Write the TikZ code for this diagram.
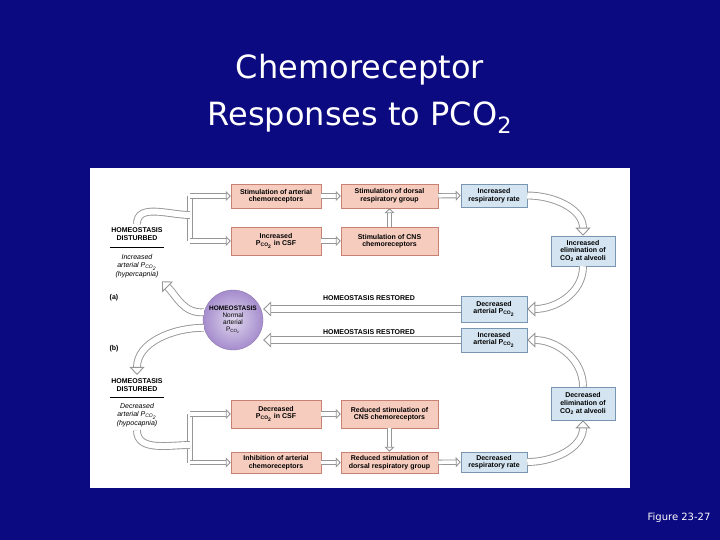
\documentclass[tikz,border=0pt]{standalone}
\usepackage{fontspec}
\setmainfont{Liberation Sans}
\newfontfamily\titlefont{DejaVu Sans}
\usetikzlibrary{arrows.meta,shapes.geometric}
\definecolor{navy}{RGB}{12,10,128}
\definecolor{pinkfill}{RGB}{246,204,190}
\definecolor{pinkline}{RGB}{200,130,115}
\definecolor{bluefill}{RGB}{212,229,241}
\definecolor{blueline}{RGB}{120,150,175}
\definecolor{ballcol}{RGB}{165,140,205}
\definecolor{arrline}{RGB}{150,150,150}
\newcommand{\pco}{P\textsubscript{CO\textsubscript{2}}}
\tikzset{
  box/.style={draw, line width=0.5pt, align=center, inner sep=1pt,
    font=\fontsize{7}{7.6}\selectfont\bfseries},
  pbox/.style={box, fill=pinkfill, draw=pinkline},
  bbox/.style={box, fill=bluefill, draw=blueline},
  lbl/.style={align=center, font=\fontsize{7}{8}\selectfont},
  fat/.style={draw=arrline, double=white, double distance=3.5pt, line width=0.9pt,
    -{Triangle[open,length=5pt,width=10pt,fill=white]}},
  trunk/.style={draw=arrline, double=white, double distance=3.5pt, line width=0.9pt},
  fatl/.style={draw=arrline, double=white, double distance=6pt, line width=0.9pt},
  big/.style={draw=arrline, double=white, double distance=6pt, line width=0.9pt,
    -{Triangle[open,length=8pt,width=15pt,fill=white]}}
}
\begin{document}
\begin{tikzpicture}[x=1pt,y=-1pt]
\fill[navy] (0,0) rectangle (720,540);
\useasboundingbox (0,0) rectangle (720,540);
\fill[white] (90,168) rectangle (630,488);
% title
\node[white, font=\titlefont\fontsize{32}{40}\selectfont] (t1) at (360,70) {Chemoreceptor};
\node[white, font=\titlefont\fontsize{32}{40}\selectfont] (t2) at (360,118) {Responses to PCO\textsubscript{2}};
\node[white, font=\titlefont\fontsize{10}{12}\selectfont] (fig) at (679,518) {Figure 23-27};
% (a) boxes
\node[pbox, minimum width=90, minimum height=24] (A1) at (276,196) {Stimulation of arterial\\chemoreceptors};
\node[pbox, minimum width=97, minimum height=24] (A2) at (389.5,196) {Stimulation of dorsal\\respiratory group};
\node[bbox, minimum width=66, minimum height=23] (A3) at (494,195.5) {Increased\\respiratory rate};
\node[pbox, minimum width=90, minimum height=28] (A4) at (276,241) {Increased\\\pco{} in CSF};
\node[pbox, minimum width=97, minimum height=28] (A5) at (389.5,241) {Stimulation of CNS\\chemoreceptors};
\node[bbox, minimum width=64, minimum height=30] (A6) at (583,251) {Increased\\elimination of\\CO\textsubscript{2} at alveoli};
\node[bbox, minimum width=66, minimum height=26] (A7) at (494,309) {Decreased\\arterial \pco};
% (b) boxes
\node[bbox, minimum width=66, minimum height=24] (B7) at (494,340) {Increased\\arterial \pco};
\node[pbox, minimum width=90, minimum height=28] (B1) at (276,414) {Decreased\\\pco{} in CSF};
\node[pbox, minimum width=97, minimum height=28] (B2) at (389.5,414) {Reduced stimulation of\\CNS chemoreceptors};
\node[pbox, minimum width=90, minimum height=21] (B4) at (276,462.5) {Inhibition of arterial\\chemoreceptors};
\node[pbox, minimum width=97, minimum height=21] (B5) at (389.5,462.5) {Reduced stimulation of\\dorsal respiratory group};
\node[bbox, minimum width=66, minimum height=20] (B6) at (494,462) {Decreased\\respiratory rate};
\node[bbox, minimum width=64, minimum height=33] (B8) at (583,403.5) {Decreased\\elimination of\\CO\textsubscript{2} at alveoli};
% homeostasis ball
\node[circle, minimum size=60, inner sep=0pt, inner color=ballcol!35!white, outer color=ballcol,
  draw=ballcol!80!black, line width=0.3pt, align=center,
  font=\fontsize{6.5}{7}\selectfont] (circ) at (233,320)
  {\textbf{HOMEOSTASIS}\\Normal\\arterial\\\pco};
% left texts
\node[lbl, font=\fontsize{7}{8}\selectfont\bfseries] (da1) at (137,234) {HOMEOSTASIS\\DISTURBED};
\node[lbl, font=\fontsize{7}{8.5}\selectfont\itshape] (da2) at (137,266) {Increased\\arterial \pco\\(hypercapnia)};
\draw[black, line width=0.5pt] (110,247) -- (164,247);
\node[lbl, font=\fontsize{7}{8}\selectfont\bfseries] (pa) at (114,298) {(a)};
\node[lbl, font=\fontsize{7}{8}\selectfont\bfseries] (pb) at (114,349) {(b)};
\node[lbl, font=\fontsize{7}{8}\selectfont\bfseries] (db1) at (137,385) {HOMEOSTASIS\\DISTURBED};
\node[lbl, font=\fontsize{7}{8.5}\selectfont\itshape] (db2) at (137,415) {Decreased\\arterial \pco\\(hypocapnia)};
\draw[black, line width=0.5pt] (110,397) -- (164,397);
\node[lbl, font=\fontsize{7}{8}\selectfont\bfseries] (ra) at (369,298) {HOMEOSTASIS RESTORED};
\node[lbl, font=\fontsize{7}{8}\selectfont\bfseries] (rb) at (369,332) {HOMEOSTASIS RESTORED};
% connectors (a)
\coordinate (ja1) at (190,196);
\coordinate (ja2) at (190,241);
\coordinate (ja) at (190,215);
\draw[trunk] (ja1) -- (ja2);
\draw[fatl] (da1.north) to[out=90,in=180] (ja);
\draw[fat] (ja1) -- (A1.west);
\draw[fat] (ja2) -- (A4.west);
\draw[fat] (A1) -- (A2);
\draw[fat] (A2) -- (A3);
\draw[fat] (A4) -- (A5);
\draw[fat] (A5) -- (A2);
\draw[big] (A3.east) to[out=0,in=90] (A6.north);
\draw[big] (A6.south) to[out=-90,in=0] (A7.east);
\draw[big] (A7.west) -- (circ.east |- A7.west);
\draw[big] (circ.165) to[out=185,in=-45] (da2.south east);
% connectors (b)
\draw[big] (B7.west) -- (circ.east |- B7.west);
\draw[big] (circ.195) to[out=180,in=90] (db1.north);
\coordinate (jb1) at (190,414);
\coordinate (jb2) at (190,462.5);
\coordinate (jb) at (190,445);
\draw[trunk] (jb1) -- (jb2);
\draw[fatl] (db2.south) to[out=-90,in=180] (jb);
\draw[fat] (jb1) -- (B1.west);
\draw[fat] (jb2) -- (B4.west);
\draw[fat] (B1) -- (B2);
\draw[fat] (B2) -- (B5);
\draw[fat] (B4) -- (B5);
\draw[fat] (B5) -- (B6);
\draw[big] (B6.east) to[out=0,in=-90] (B8.south);
\draw[big] (B8.north) to[out=90,in=0] (B7.east);
\end{tikzpicture}
\end{document}
